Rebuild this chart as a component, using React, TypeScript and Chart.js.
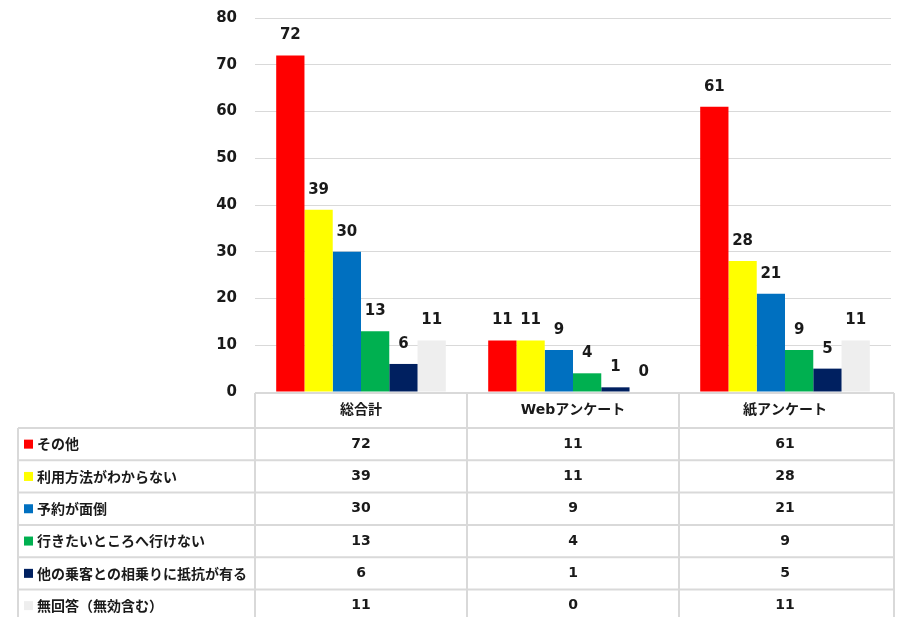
import React, { useEffect, useRef } from "react";
import { Chart, registerables } from "chart.js";

Chart.register(...registerables);

// Survey categories (columns)
const CATEGORIES = ["総合計", "Webアンケート", "紙アンケート"];

// Reasons (series) and their counts per category
const SERIES_NAMES = [
  "その他",
  "利用方法がわからない",
  "予約が面倒",
  "行きたいところへ行けない",
  "他の乗客との相乗りに抵抗が有る",
  "無回答（無効含む）",
];
const OTHER = [72, 11, 61];
const UNCLEAR_USAGE = [39, 11, 28];
const BOOKING_HASSLE = [30, 9, 21];
const CANT_GO = [13, 4, 9];
const SHARED_RIDE = [6, 1, 5];
const NO_ANSWER = [11, 0, 11];
const SERIES_VALUES = [OTHER, UNCLEAR_USAGE, BOOKING_HASSLE, CANT_GO, SHARED_RIDE, NO_ANSWER];

// Value axis
const Y_MIN = 0;
const Y_MAX = 80;
const Y_STEP = 10;

const COLORS = ["#ff0000", "#ffff00", "#0070c0", "#00b050", "#002060", "#eeeeee"];

const FONT_LATIN = '"DejaVu Sans", "Noto Sans CJK JP", sans-serif';
const FONT_MIXED = '"DejaVu Sans", "Noto Sans CJK JP", sans-serif';
const TEXT_COLOR = "#1a1a1a";
const BORDER_COLOR = "#d9d9d9";

// Value labels above each bar
const barLabels = {
  id: "barLabels",
  afterDatasetsDraw(chart: any) {
    const ctx = chart.ctx;
    ctx.save();
    ctx.font = `bold 15px ${FONT_LATIN}`;
    ctx.fillStyle = TEXT_COLOR;
    ctx.textAlign = "center";
    ctx.textBaseline = "middle";
    chart.data.datasets.forEach((ds: any, di: number) => {
      const meta = chart.getDatasetMeta(di);
      meta.data.forEach((el: any, i: number) => {
        ctx.fillText(String(ds.data[i]), el.x, el.y - 20);
      });
    });
    ctx.restore();
  },
};

// Data table beneath the plot, columns aligned with the category scale
const dataTable = {
  id: "dataTable",
  afterDraw(chart: any) {
    const ctx = chart.ctx;
    const area = chart.chartArea;
    const n = CATEGORIES.length;
    const colW = (area.right - area.left) / n;
    const tableLeft = 18;
    const headerTop = area.bottom + 1;
    const headerH = 35;
    const rowH = 32.3;
    const rowsTop = headerTop + headerH;
    const nRows = SERIES_NAMES.length;
    const bottom = rowsTop + rowH * nRows;

    ctx.save();
    ctx.strokeStyle = BORDER_COLOR;
    ctx.lineWidth = 2;

    // horizontal lines
    ctx.beginPath();
    ctx.moveTo(area.left, headerTop);
    ctx.lineTo(area.right + 3, headerTop);
    for (let r = 0; r <= nRows; r++) {
      const y = rowsTop + r * rowH;
      ctx.moveTo(tableLeft, y);
      ctx.lineTo(area.right + 3, y);
    }
    // vertical lines
    ctx.moveTo(tableLeft, rowsTop);
    ctx.lineTo(tableLeft, bottom);
    for (let c = 0; c <= n; c++) {
      const x = c === n ? area.right + 3 : area.left + c * colW;
      ctx.moveTo(x, headerTop);
      ctx.lineTo(x, bottom);
    }
    ctx.stroke();

    ctx.fillStyle = TEXT_COLOR;
    ctx.textBaseline = "middle";

    // header
    ctx.font = `bold 14px ${FONT_MIXED}`;
    ctx.textAlign = "center";
    CATEGORIES.forEach((cat, c) => {
      ctx.fillText(cat, area.left + (c + 0.5) * colW, headerTop + headerH / 2);
    });

    // rows
    SERIES_NAMES.forEach((name, r) => {
      const cy = rowsTop + (r + 0.5) * rowH;
      ctx.fillStyle = COLORS[r];
      ctx.fillRect(tableLeft + 6, cy - 4.5, 9, 9);
      ctx.fillStyle = TEXT_COLOR;
      ctx.textAlign = "left";
      ctx.font = `bold 14px "Noto Sans CJK JP", sans-serif`;
      ctx.fillText(name, tableLeft + 19, cy);
      ctx.textAlign = "center";
      ctx.font = `bold 14px ${FONT_LATIN}`;
      SERIES_VALUES[r].forEach((v, c) => {
        ctx.fillText(String(v), area.left + (c + 0.5) * colW, cy);
      });
    });
    ctx.restore();
  },
};

export default function App() {
  const canvasRef = useRef<HTMLCanvasElement | null>(null);

  useEffect(() => {
    document.body.style.margin = "0";
    const canvas = canvasRef.current;
    if (!canvas) return;
    const chart = new Chart(canvas, {
      type: "bar",
      data: {
        labels: CATEGORIES,
        datasets: SERIES_NAMES.map((name, i) => ({
          label: name,
          data: SERIES_VALUES[i],
          backgroundColor: COLORS[i],
          borderWidth: 0,
          categoryPercentage: 0.8,
          barPercentage: 1.0,
        })),
      },
      options: {
        responsive: false,
        animation: false,
        devicePixelRatio: 1,
        layout: { padding: { left: 0, right: 6, top: 18, bottom: 225 } },
        plugins: {
          legend: { display: false },
          tooltip: { enabled: false },
          title: { display: false },
        },
        scales: {
          x: { display: false },
          y: {
            min: Y_MIN,
            max: Y_MAX,
            ticks: {
              stepSize: Y_STEP,
              padding: 18,
              color: TEXT_COLOR,
              font: { family: FONT_LATIN, size: 15, weight: "bold" },
            },
            grid: { color: BORDER_COLOR, lineWidth: 1, drawTicks: false },
            border: { display: false },
            afterFit(scale: any) {
              scale.width = 255;
              scale.paddingTop = 9;
              scale.paddingBottom = 9;
            },
          },
        },
      },
      plugins: [barLabels, dataTable],
    });
    return () => chart.destroy();
  }, []);

  return (
    <div style={{ width: 897, height: 617, background: "#ffffff" }}>
      <canvas ref={canvasRef} width={897} height={617} style={{ display: "block" }} />
    </div>
  );
}
